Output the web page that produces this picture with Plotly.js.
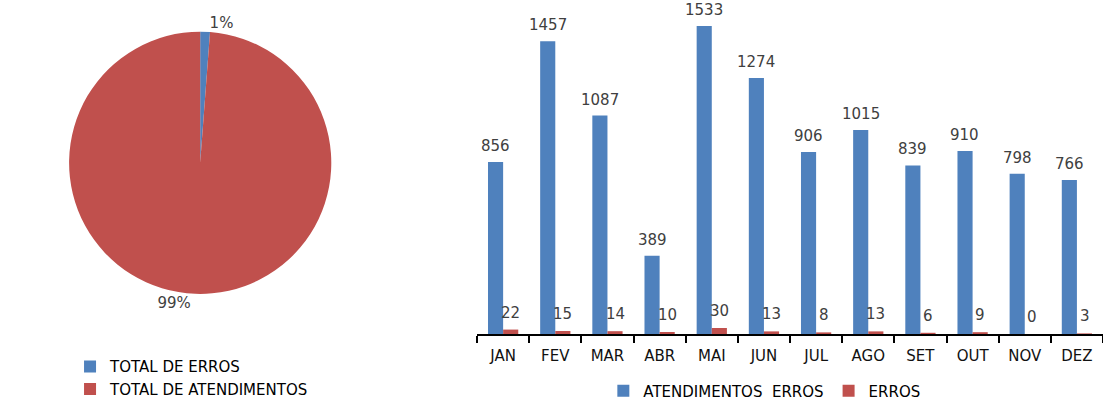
<!DOCTYPE html>
<html>
<head>
<meta charset="utf-8">
<script src="https://cdn.plot.ly/plotly-3.0.1.min.js"></script>
<style>html,body{margin:0;padding:0;background:#fff;}#chart{width:1103px;height:401px;}</style>
</head>
<body>
<div id="chart"></div>
<script>
// ---- data ----
const months = ['JAN','FEV','MAR','ABR','MAI','JUN','JUL','AGO','SET','OUT','NOV','DEZ'];
const atendimentos = [856,1457,1087,389,1533,1274,906,1015,839,910,798,766];
const erros = [22,15,14,10,30,13,8,13,6,9,0,3];
const pieLabels = ['TOTAL DE ERROS','TOTAL DE ATENDIMENTOS'];
const barNames = ['ATENDIMENTOS\u00a0 ERROS','ERROS'];

const sum = a => a.reduce((s,v)=>s+v,0);
const pieValues = [sum(erros), sum(atendimentos)];

const BLUE = '#4F81BD', RED = '#C0504D';
const FONT = 'DejaVu Sans, Verdana, sans-serif';

const pie = {
  type:'pie', labels:pieLabels, values:pieValues,
  marker:{colors:[BLUE,RED], line:{width:0}},
  sort:false, direction:'clockwise', rotation:0,
  textposition:'outside', texttemplate:'%{percent:.0%}',
  textfont:{family:FONT,size:15,color:'#404040'},
  domain:{x:[0,0.363], y:[0.12,0.905]},
  legend:'legend', hoverinfo:'none'
};

const barA = {type:'bar', x:months, y:atendimentos, name:barNames[0],
  marker:{color:BLUE}, xaxis:'x', yaxis:'y', legend:'legend2', hoverinfo:'none'};
const barE = {type:'bar', x:months, y:erros, name:barNames[1],
  marker:{color:RED}, xaxis:'x', yaxis:'y', legend:'legend2', hoverinfo:'none'};

const annotations = [];
const off = 7.6;
months.forEach((m,i)=>{
  annotations.push({x:m, y:atendimentos[i], xref:'x', yref:'y', text:String(atendimentos[i]),
    showarrow:false, yanchor:'bottom', xshift:-off, yshift:5,
    font:{family:FONT,size:15,color:'#404040'}});
  annotations.push({x:m, y:erros[i], xref:'x', yref:'y', text:String(erros[i]),
    showarrow:false, yanchor:'bottom', xshift:off, yshift:6,
    font:{family:FONT,size:15,color:'#404040'}});
});

const layout = {
  width:1103, height:401,
  margin:{l:0,r:0,t:0,b:67, autoexpand:false},
  paper_bgcolor:'#fff', plot_bgcolor:'#fff',
  font:{family:FONT,color:'#000'},
  barmode:'group', bargap:0.42, bargroupgap:0,
  xaxis:{domain:[0.4325,1], type:'category', showline:true, linecolor:'#000', linewidth:2,
    ticks:'outside', tickson:'boundaries', ticklen:7, tickwidth:2, tickcolor:'#000',
    ticklabelstandoff:7,
    tickfont:{family:FONT,size:15,color:'#111'}, showgrid:false, zeroline:false, fixedrange:true,
    automargin:false},
  yaxis:{range:[0,1662], visible:false, fixedrange:true},
  legend:{x:0.0635, y:0.058, xref:'container', yref:'container', xanchor:'left', yanchor:'middle', orientation:'v',
    font:{family:FONT,size:15,color:'#000'}, bgcolor:'rgba(0,0,0,0)', tracegroupgap:0},
  legend2:{x:0.547, y:0.025, xref:'container', yref:'container', xanchor:'left', yanchor:'middle', orientation:'h',
    font:{family:FONT,size:15,color:'#000'}, bgcolor:'rgba(0,0,0,0)'},
  annotations:annotations,
  showlegend:true
};

Plotly.newPlot('chart',[pie,barA,barE],layout,{staticPlot:true,displayModeBar:false});
</script>
</body>
</html>
